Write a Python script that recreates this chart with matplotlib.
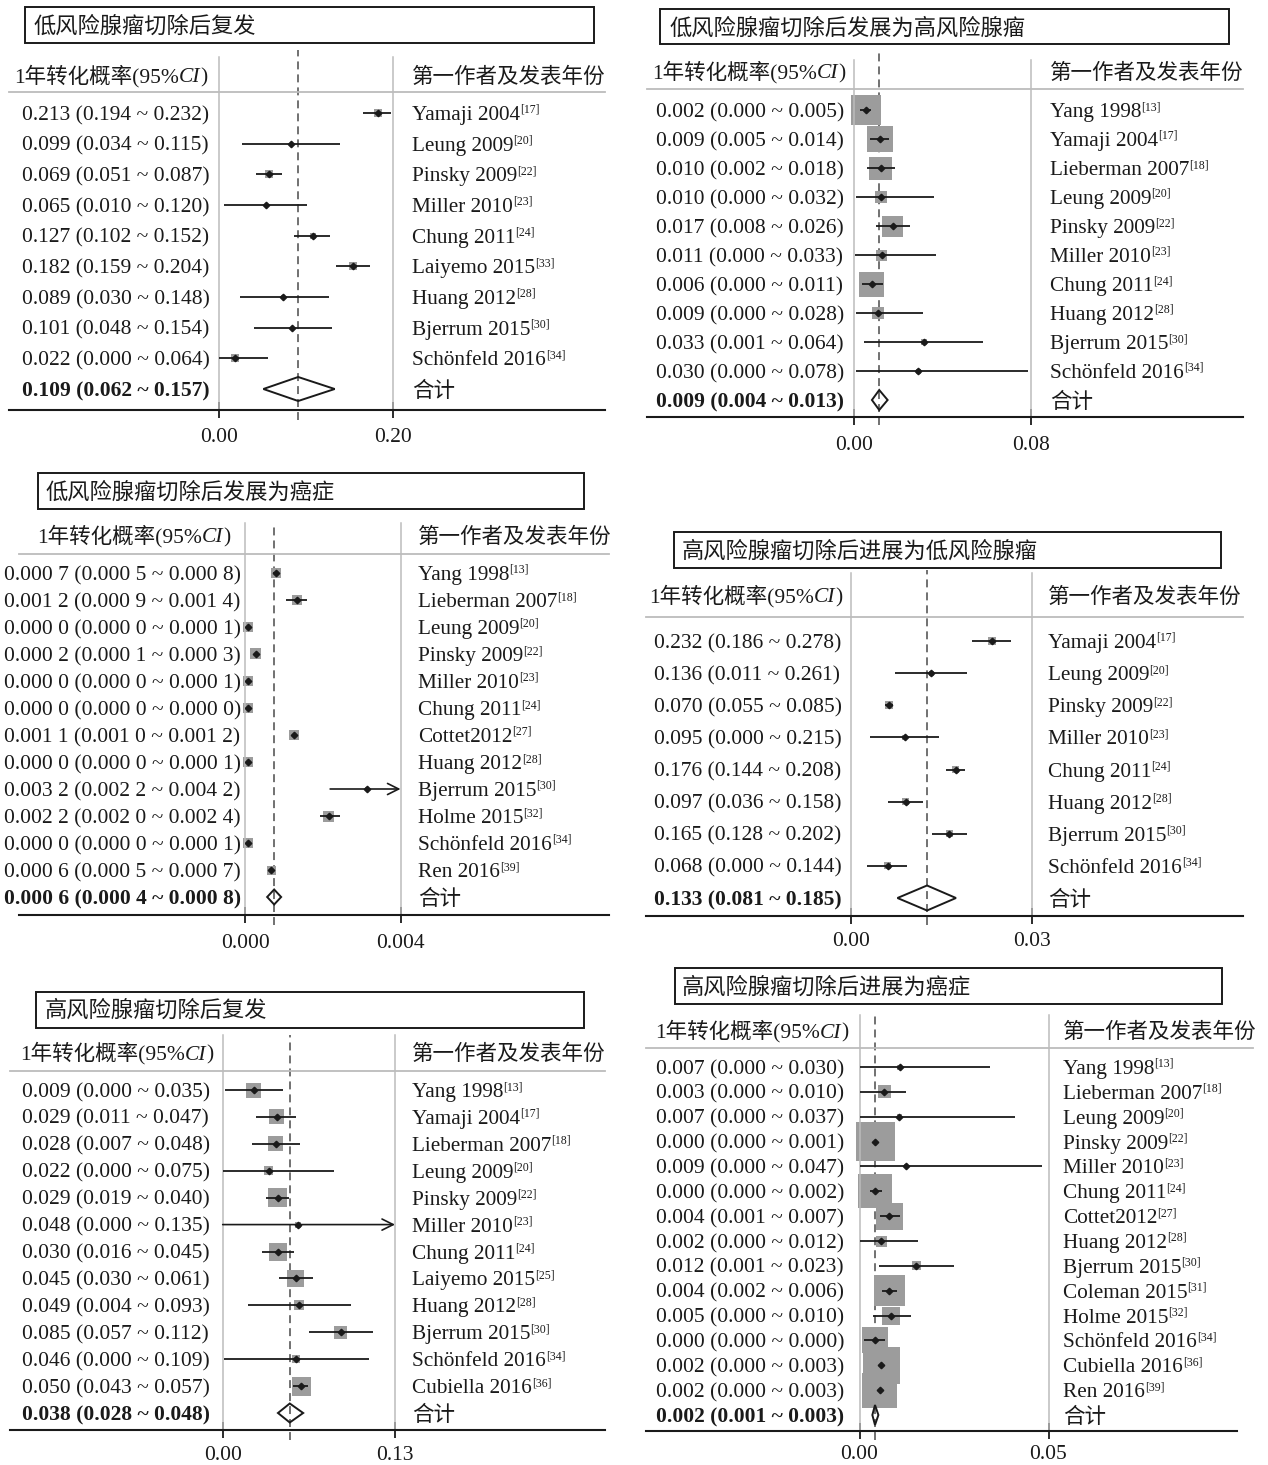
import numpy as np
import matplotlib
matplotlib.use("Agg")
import matplotlib.pyplot as plt
from matplotlib.transforms import IdentityTransform
from matplotlib.lines import Line2D
from matplotlib.patches import Polygon, Rectangle

plt.rcParams['font.family'] = ['Liberation Serif', 'Noto Sans CJK SC', 'DejaVu Sans']

# ---------------- data (plotted positions) ----------------
p1_title = "低风险腺瘤切除后复发"
p1_names = ["Yamaji 2004", "Leung 2009", "Pinsky 2009", "Miller 2010", "Chung 2011",
            "Laiyemo 2015", "Huang 2012", "Bjerrum 2015", "Schönfeld 2016"]
p1_refs = ["17", "20", "22", "23", "24", "33", "28", "30", "34"]
p1_ci = ["0.213 (0.194 ~ 0.232)", "0.099 (0.034 ~ 0.115)", "0.069 (0.051 ~ 0.087)",
         "0.065 (0.010 ~ 0.120)", "0.127 (0.102 ~ 0.152)", "0.182 (0.159 ~ 0.204)",
         "0.089 (0.030 ~ 0.148)", "0.101 (0.048 ~ 0.154)", "0.022 (0.000 ~ 0.064)"]
p1_total = "0.109 (0.062 ~ 0.157)"
p1_est = [0.183, 0.083, 0.057, 0.054, 0.108, 0.154, 0.074, 0.084, 0.018]
p1_lo = [0.166, 0.027, 0.042, 0.006, 0.086, 0.134, 0.024, 0.040, 0.000]
p1_hi = [0.198, 0.139, 0.072, 0.101, 0.128, 0.174, 0.126, 0.130, 0.056]
p1_wt = [8, 3, 8, 3, 6, 8, 4, 3, 8]
p1_pool = [0.051, 0.091, 0.133]
p1_ticks = [0.00, 0.20]

p2_title = "低风险腺瘤切除后发展为高风险腺瘤"
p2_names = ["Yang 1998", "Yamaji 2004", "Lieberman 2007", "Leung 2009", "Pinsky 2009",
            "Miller 2010", "Chung 2011", "Huang 2012", "Bjerrum 2015", "Schönfeld 2016"]
p2_refs = ["13", "17", "18", "20", "22", "23", "24", "28", "30", "34"]
p2_ci = ["0.002 (0.000 ~ 0.005)", "0.009 (0.005 ~ 0.014)", "0.010 (0.002 ~ 0.018)",
         "0.010 (0.000 ~ 0.032)", "0.017 (0.008 ~ 0.026)", "0.011 (0.000 ~ 0.033)",
         "0.006 (0.000 ~ 0.011)", "0.009 (0.000 ~ 0.028)", "0.033 (0.001 ~ 0.064)",
         "0.030 (0.000 ~ 0.078)"]
p2_total = "0.009 (0.004 ~ 0.013)"
p2_est = [0.0054, 0.0116, 0.0121, 0.0121, 0.0176, 0.0125, 0.0081, 0.0109, 0.0315, 0.0291]
p2_lo = [0.0027, 0.0071, 0.0058, 0.0009, 0.0100, 0.0004, 0.0034, 0.0007, 0.0043, 0.0009]
p2_hi = [0.0076, 0.0157, 0.0186, 0.0360, 0.0252, 0.0371, 0.0132, 0.0311, 0.0583, 0.0787]
p2_wt = [30, 26, 23, 12, 21, 11, 25, 12, 6, 5]
p2_pool = [0.0081, 0.0114, 0.0152]
p2_ticks = [0.00, 0.08]

p3_title = "低风险腺瘤切除后发展为癌症"
p3_names = ["Yang 1998", "Lieberman 2007", "Leung 2009", "Pinsky 2009", "Miller 2010",
            "Chung 2011", "Cottet2012", "Huang 2012", "Bjerrum 2015", "Holme 2015",
            "Schönfeld 2016", "Ren 2016"]
p3_refs = ["13", "18", "20", "22", "23", "24", "27", "28", "30", "32", "34", "39"]
p3_ci = ["0.000 7 (0.000 5 ~ 0.000 8)", "0.001 2 (0.000 9 ~ 0.001 4)",
         "0.000 0 (0.000 0 ~ 0.000 1)", "0.000 2 (0.000 1 ~ 0.000 3)",
         "0.000 0 (0.000 0 ~ 0.000 1)", "0.000 0 (0.000 0 ~ 0.000 0)",
         "0.001 1 (0.001 0 ~ 0.001 2)", "0.000 0 (0.000 0 ~ 0.000 1)",
         "0.003 2 (0.002 2 ~ 0.004 2)", "0.002 2 (0.002 0 ~ 0.002 4)",
         "0.000 0 (0.000 0 ~ 0.000 1)", "0.000 6 (0.000 5 ~ 0.000 7)"]
p3_total = "0.000 6 (0.000 4 ~ 0.000 8)"
p3_est = [0.00079, 0.00134, 0.00008, 0.00028, 0.00008, 0.00008,
          0.00127, 0.00008, 0.00313, 0.00216, 0.00008, 0.00068]
p3_lo = [0.00072, 0.00106, 0.00002, 0.00022, 0.00002, 0.00004,
         0.00120, 0.00002, 0.00219, 0.00193, 0.00002, 0.00062]
p3_hi = [0.00085, 0.00160, 0.00014, 0.00034, 0.00014, 0.00012,
         0.00134, 0.00014, 0.00420, 0.00244, 0.00014, 0.00074]
p3_wt = [10, 10, 10, 11, 10, 10, 10, 10, 4, 11, 10, 9]
p3_pool = [0.00057, 0.00075, 0.00093]
p3_ticks = [0.000, 0.004]

p4_title = "高风险腺瘤切除后进展为低风险腺瘤"
p4_names = ["Yamaji 2004", "Leung 2009", "Pinsky 2009", "Miller 2010", "Chung 2011",
            "Huang 2012", "Bjerrum 2015", "Schönfeld 2016"]
p4_refs = ["17", "20", "22", "23", "24", "28", "30", "34"]
p4_ci = ["0.232 (0.186 ~ 0.278)", "0.136 (0.011 ~ 0.261)", "0.070 (0.055 ~ 0.085)",
         "0.095 (0.000 ~ 0.215)", "0.176 (0.144 ~ 0.208)", "0.097 (0.036 ~ 0.158)",
         "0.165 (0.128 ~ 0.202)", "0.068 (0.000 ~ 0.144)"]
p4_total = "0.133 (0.081 ~ 0.185)"
p4_est = [0.0234, 0.0133, 0.0063, 0.0089, 0.0174, 0.0091, 0.0163, 0.0061]
p4_lo = [0.0201, 0.0073, 0.0056, 0.0031, 0.0158, 0.0062, 0.0134, 0.0027]
p4_hi = [0.0266, 0.0193, 0.0070, 0.0146, 0.0189, 0.0120, 0.0193, 0.0093]
p4_wt = [8, 5, 8, 5, 7, 7, 7, 7]
p4_pool = [0.0077, 0.0126, 0.0174]
p4_ticks = [0.00, 0.03]

p5_title = "高风险腺瘤切除后复发"
p5_names = ["Yang 1998", "Yamaji 2004", "Lieberman 2007", "Leung 2009", "Pinsky 2009",
            "Miller 2010", "Chung 2011", "Laiyemo 2015", "Huang 2012", "Bjerrum 2015",
            "Schönfeld 2016", "Cubiella 2016"]
p5_refs = ["13", "17", "18", "20", "22", "23", "24", "25", "28", "30", "34", "36"]
p5_ci = ["0.009 (0.000 ~ 0.035)", "0.029 (0.011 ~ 0.047)", "0.028 (0.007 ~ 0.048)",
         "0.022 (0.000 ~ 0.075)", "0.029 (0.019 ~ 0.040)", "0.048 (0.000 ~ 0.135)",
         "0.030 (0.016 ~ 0.045)", "0.045 (0.030 ~ 0.061)", "0.049 (0.004 ~ 0.093)",
         "0.085 (0.057 ~ 0.112)", "0.046 (0.000 ~ 0.109)", "0.050 (0.043 ~ 0.057)"]
p5_total = "0.038 (0.028 ~ 0.048)"
p5_est = [0.0235, 0.0408, 0.0399, 0.0348, 0.0417, 0.0571, 0.0417, 0.0550, 0.0577, 0.0890, 0.0553, 0.0592]
p5_lo = [0.0021, 0.0253, 0.0223, 0.0000, 0.0324, 0.0000, 0.0298, 0.0425, 0.0193, 0.0652, 0.0012, 0.0527]
p5_hi = [0.0458, 0.0556, 0.0580, 0.0839, 0.0503, 0.1350, 0.0541, 0.0681, 0.0967, 0.1136, 0.1107, 0.0646]
p5_wt = [15, 15, 15, 9, 19, 6, 18, 17, 10, 13, 8, 19]
p5_pool = [0.0417, 0.0506, 0.0607]
p5_ticks = [0.00, 0.13]

p6_title = "高风险腺瘤切除后进展为癌症"
p6_names = ["Yang 1998", "Lieberman 2007", "Leung 2009", "Pinsky 2009", "Miller 2010",
            "Chung 2011", "Cottet2012", "Huang 2012", "Bjerrum 2015", "Coleman 2015",
            "Holme 2015", "Schönfeld 2016", "Cubiella 2016", "Ren 2016"]
p6_refs = ["13", "18", "20", "22", "23", "24", "27", "28", "30", "31", "32", "34", "36", "39"]
p6_ci = ["0.007 (0.000 ~ 0.030)", "0.003 (0.000 ~ 0.010)", "0.007 (0.000 ~ 0.037)",
         "0.000 (0.000 ~ 0.001)", "0.009 (0.000 ~ 0.047)", "0.000 (0.000 ~ 0.002)",
         "0.004 (0.001 ~ 0.007)", "0.002 (0.000 ~ 0.012)", "0.012 (0.001 ~ 0.023)",
         "0.004 (0.002 ~ 0.006)", "0.005 (0.000 ~ 0.010)", "0.000 (0.000 ~ 0.000)",
         "0.002 (0.000 ~ 0.003)", "0.002 (0.000 ~ 0.003)"]
p6_total = "0.002 (0.001 ~ 0.003)"
p6_est = [0.0106, 0.0066, 0.0105, 0.0042, 0.0122, 0.0042, 0.0079,
          0.0058, 0.0150, 0.0079, 0.0084, 0.0042, 0.0057, 0.0053]
p6_lo = [0.0000, 0.0002, 0.0000, 0.0038, 0.0000, 0.0027, 0.0053,
         0.0000, 0.0052, 0.0060, 0.0037, 0.0013, 0.0053, 0.0049]
p6_hi = [0.0346, 0.0124, 0.0412, 0.0047, 0.0482, 0.0060, 0.0106,
         0.0154, 0.0251, 0.0098, 0.0135, 0.0068, 0.0062, 0.0058]
p6_wt = [5, 13, 5, 39, 4, 34, 27, 11, 9, 31, 18, 26, 37, 35]
p6_pool = [0.0034, 0.0041, 0.0050]
p6_ticks = [0.00, 0.05]

# ---------------- layout (pixel geometry of each panel) ----------------
W, H = 1268, 1465
LAYOUT = [
    dict(box=(25, 7, 594, 43), tx=34, ty=25, head_y=75, head_lx=14, head_rx=412, lab_x=22,
         name_x=412, vtop=57, hline_y=92, lx=(9, 605), ax_x1=605, axis_y=410, px=(219, 393),
         row0=113, rowN=389, dash=(50, 420), tl_y=435, dia=24, dec=2),
    dict(box=(660, 9, 1229, 44), tx=669, ty=27, head_y=71, head_lx=652, head_rx=1050, lab_x=656,
         name_x=1050, vtop=60, hline_y=89, lx=(647, 1243), ax_x1=1243, axis_y=417, px=(854, 1031),
         row0=110, rowN=400, dash=(53, 425), tl_y=443, dia=20, dec=2),
    dict(box=(38, 473, 584, 509), tx=46, ty=491, head_y=535, head_lx=37, head_rx=418, lab_x=4,
         name_x=418, vtop=523, hline_y=554, lx=(19, 609), ax_x1=609, axis_y=915, px=(245, 400.5),
         row0=573, rowN=897, dash=(523, 925), tl_y=941, dia=15, dec=3),
    dict(box=(674, 532, 1221, 568), tx=682, ty=550, head_y=595, head_lx=649, head_rx=1048, lab_x=654,
         name_x=1048, vtop=573, hline_y=617, lx=(646, 1243), ax_x1=1243, axis_y=916, px=(851, 1032),
         row0=641, rowN=898, dash=(570, 925), tl_y=939, dia=25, dec=2),
    dict(box=(36, 992, 584, 1028), tx=45, ty=1009, head_y=1052, head_lx=20, head_rx=412, lab_x=22,
         name_x=412, vtop=1035, hline_y=1071, lx=(10, 605), ax_x1=605, axis_y=1430, px=(222.7, 395),
         row0=1090, rowN=1413, dash=(1035, 1440), tl_y=1453, dia=19, dec=2),
    dict(box=(675, 968, 1222, 1004), tx=682, ty=986, head_y=1030, head_lx=655, head_rx=1063, lab_x=656,
         name_x=1063, vtop=1015, hline_y=1048, lx=(646, 1253), ax_x1=1237, axis_y=1431, px=(859.5, 1048.5),
         row0=1067, rowN=1415, dash=(1015, 1440), tl_y=1452, dia=20, dec=2),
]

INK = '#1a1a1a'
GRID = '#bcbcbc'
BOXC = '#9c9c9c'
FAM = ['Liberation Serif', 'Noto Sans CJK SC', 'DejaVu Sans']

fig = plt.figure(figsize=(W / 100, H / 100), dpi=100)
fig.patch.set_facecolor('white')
R = fig.canvas.get_renderer()


def put(x, y, s, **kw):
    # x, y in image pixels (origin top-left)
    kw.setdefault('color', INK)
    kw.setdefault('family', FAM)
    return fig.text(x, H - y, s, transform=IdentityTransform(), **kw)


def runs(x, y, pieces, size):
    # consecutive text pieces on one baseline
    for s, opt in pieces:
        opt = dict(opt)
        fs = opt.pop('size', size)
        dy = opt.pop('dy', 0)
        t = put(x, y - dy, s, fontsize=fs, va='baseline', **opt)
        x = t.get_window_extent(R).x1


def hline(x0, x1, y, **kw):
    fig.add_artist(Line2D([x0, x1], [H - y, H - y], transform=IdentityTransform(), **kw))


def panel(g, title, names, refs, ci, total, est, lo, hi, wt, pool, ticks):
    n = len(names)
    step = (g['rowN'] - g['row0']) / n
    px0, px1 = g['px']
    top, bot = g['vtop'], g['axis_y']
    ax = fig.add_axes([px0 / W, 1 - bot / H, (px1 - px0) / W, (bot - top) / H])
    ax.set_xlim(ticks[0], ticks[-1])
    ax.set_ylim((bot - g['row0']) / step, (top - g['row0']) / step)
    ax.patch.set_alpha(0)
    for sp in ['top', 'bottom']:
        ax.spines[sp].set_visible(False)
    for sp in ['left', 'right']:
        ax.spines[sp].set_color(GRID)
        ax.spines[sp].set_linewidth(1.1)
    ax.set_yticks([])
    ax.set_xticks(ticks)
    ax.set_xticklabels([])
    ax.tick_params(axis='x', direction='inout', length=12, width=1.3, color=INK)

    rows = np.arange(n)
    xmax = ticks[-1]

    # pooled estimate reference line
    span = bot - top
    ax.axvline(pool[1], ymin=-(g['dash'][1] - bot) / span, ymax=1 + (top - g['dash'][0]) / span,
               clip_on=False, color='#4a4a4a', lw=1.1, dashes=(5.2, 3.3), zorder=1)

    # study weights as grey squares
    ax.scatter(est, rows, s=(np.array(wt) * 0.72) ** 2, marker='s', color=BOXC,
               linewidths=0, zorder=2, clip_on=False)
    for i in rows:
        if hi[i] > xmax:
            ax.annotate('', xy=(xmax, i), xytext=(lo[i], i),
                        arrowprops=dict(arrowstyle='->', lw=1.2, color=INK, mutation_scale=20,
                                        shrinkA=0, shrinkB=0), zorder=3)
        else:
            ax.plot([lo[i], hi[i]], [i, i], color=INK, lw=1.3, zorder=3, solid_capstyle='butt')
    ax.plot(est, rows, 'D', ms=3.3, color=INK, zorder=4)

    hh = g['dia'] / 2 / step
    ax.add_patch(Polygon([(pool[0], n), (pool[1], n - hh), (pool[2], n), (pool[1], n + hh)],
                         closed=True, fill=False, ec=INK, lw=1.4, zorder=4, clip_on=False))

    # frame pieces
    x0, y0, x1, y1 = g['box']
    fig.add_artist(Rectangle((x0, H - y1), x1 - x0, y1 - y0, transform=IdentityTransform(),
                             fill=False, ec=INK, lw=1.4))
    put(g['tx'], g['ty'] + 8, title, fontsize=16, va='baseline')
    hline(g['lx'][0], g['lx'][1], g['hline_y'], color=GRID, lw=1.3)
    hline(g['lx'][0], g['ax_x1'], bot, color=INK, lw=1.5)

    runs(g['head_lx'], g['head_y'] + 7.5,
         [('1年转化概率(95%', {}), ('CI', {'style': 'italic'}), (')', {})], 15.5)
    put(g['head_rx'], g['head_y'] + 7.5, '第一作者及发表年份', fontsize=15.5, va='baseline')

    for i in rows:
        y = g['row0'] + i * step
        put(g['lab_x'], y + 7, ci[i], fontsize=15.5, va='baseline')
        runs(g['name_x'], y + 7, [(names[i], {}), ('[%s]' % refs[i], {'size': 8.5, 'dy': 7})], 15.3)
    put(g['lab_x'], g['rowN'] + 7, total, fontsize=15.5, fontweight='bold', va='baseline')
    put(g['name_x'], g['rowN'] + 8, '合计', fontsize=15.5, va='baseline')

    for t in ticks:
        xd = ax.transData.transform((t, 0))[0]
        put(xd, g['tl_y'] + 7, '{:.{d}f}'.format(t, d=g['dec']), fontsize=15.5,
            ha='center', va='baseline')


panel(LAYOUT[0], p1_title, p1_names, p1_refs, p1_ci, p1_total, p1_est, p1_lo, p1_hi, p1_wt, p1_pool, p1_ticks)
panel(LAYOUT[1], p2_title, p2_names, p2_refs, p2_ci, p2_total, p2_est, p2_lo, p2_hi, p2_wt, p2_pool, p2_ticks)
panel(LAYOUT[2], p3_title, p3_names, p3_refs, p3_ci, p3_total, p3_est, p3_lo, p3_hi, p3_wt, p3_pool, p3_ticks)
panel(LAYOUT[3], p4_title, p4_names, p4_refs, p4_ci, p4_total, p4_est, p4_lo, p4_hi, p4_wt, p4_pool, p4_ticks)
panel(LAYOUT[4], p5_title, p5_names, p5_refs, p5_ci, p5_total, p5_est, p5_lo, p5_hi, p5_wt, p5_pool, p5_ticks)
panel(LAYOUT[5], p6_title, p6_names, p6_refs, p6_ci, p6_total, p6_est, p6_lo, p6_hi, p6_wt, p6_pool, p6_ticks)

fig.savefig('out.png', dpi=100, facecolor='white')
